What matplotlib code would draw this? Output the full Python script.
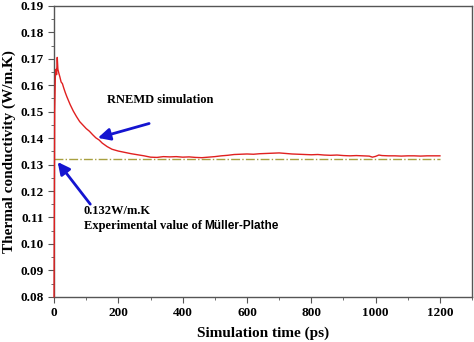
import matplotlib
matplotlib.use("Agg")
import matplotlib.pyplot as plt
from matplotlib.ticker import MultipleLocator

# RNEMD thermal conductivity vs simulation time
time_ps = [0, 2, 4, 6, 8, 10, 12, 15, 18, 22, 26, 30, 35, 40, 50, 60, 70, 80, 90,
           100, 110, 120, 130, 140, 150, 165, 180, 200, 220, 240, 260, 280, 300,
           320, 340, 360, 380, 400, 420, 440, 460, 480, 500, 520, 540, 560, 580,
           600, 620, 640, 660, 680, 700, 720, 740, 760, 780, 800, 820, 840, 860,
           880, 900, 920, 940, 960, 980, 990, 1000, 1010, 1020, 1040, 1060, 1080,
           1100, 1120, 1140, 1160, 1180, 1200]
kappa = [0.080, 0.150, 0.163, 0.166, 0.164, 0.1705, 0.166, 0.1645, 0.1632, 0.1612,
         0.1606, 0.1590, 0.1572, 0.1556, 0.1527, 0.1502, 0.1481, 0.1462, 0.1449,
         0.1436, 0.1426, 0.1413, 0.1401, 0.1393, 0.1381, 0.1368, 0.1358, 0.1351,
         0.1346, 0.1341, 0.1337, 0.1333, 0.1328, 0.1327, 0.1330, 0.1329, 0.1330,
         0.1328, 0.1329, 0.1327, 0.1326, 0.1328, 0.1330, 0.1333, 0.1335, 0.1338,
         0.1339, 0.1340, 0.1339, 0.1341, 0.1342, 0.1343, 0.1344, 0.1342, 0.1340,
         0.1339, 0.1338, 0.1337, 0.1338, 0.1336, 0.1335, 0.1336, 0.1334, 0.1333,
         0.1334, 0.1333, 0.1332, 0.1328, 0.1331, 0.1336, 0.1334, 0.1333, 0.1333,
         0.1332, 0.1333, 0.1333, 0.1332, 0.1333, 0.1333, 0.1333]
exp_value = 0.132
exp_range = [0, 1200]

plt.rcParams["font.family"] = "Liberation Serif"
plt.rcParams["font.weight"] = "bold"

fig = plt.figure(figsize=(4.74, 3.42), dpi=100)
ax = fig.add_axes([0.114, 0.132, 0.882, 0.851])

ax.plot(time_ps, kappa, color="#e02020", lw=1.0, zorder=3, clip_on=False)
ax.plot(exp_range, [exp_value, exp_value], color="#a8a040", lw=1.0, ls="-.")

ax.set_xlim(0, 1300)
ax.set_ylim(0.08, 0.19)
ax.xaxis.set_major_locator(MultipleLocator(200))
ax.xaxis.set_minor_locator(MultipleLocator(100))
ax.yaxis.set_major_locator(MultipleLocator(0.01))
ax.yaxis.set_minor_locator(MultipleLocator(0.005))
ax.yaxis.set_major_formatter(plt.FormatStrFormatter("%.2f"))
ax.tick_params(which="both", direction="out", labelsize=9.5)
ax.tick_params(which="major", length=4)
ax.tick_params(which="minor", length=2.5)
for s in ax.spines.values():
    s.set_color("#555555")
    s.set_linewidth(1.0)
ax.tick_params(which="both", colors="#555555", labelcolor="black")

ax.set_xlabel("Simulation time (ps)", fontsize=11, fontweight="bold", labelpad=5)
ax.set_ylabel("Thermal conductivity (W/m.K)", fontsize=11, fontweight="bold", labelpad=3)

arrow = dict(arrowstyle="-|>", color="#1414d0", lw=2.0, mutation_scale=18)
ax.annotate("", xy=(128, 0.1398), xytext=(304, 0.1458), arrowprops=arrow)
ax.annotate("", xy=(6, 0.1318), xytext=(118, 0.1142), arrowprops=arrow)

ax.text(166, 0.1545, "RNEMD simulation", fontsize=9, fontweight="bold", va="center")
ax.text(92, 0.1125, "0.132W/m.K", fontsize=9, fontweight="bold", va="center")
t1 = ax.text(92, 0.1068, "Experimental value of ", fontsize=9, fontweight="bold",
             va="center")
ax.annotate("Müller-Plathe", xy=(1, 0), xycoords=t1, va="bottom", ha="left",
            fontsize=8.5, fontweight="bold", family="Liberation Sans")

fig.savefig("out.png", dpi=100)
